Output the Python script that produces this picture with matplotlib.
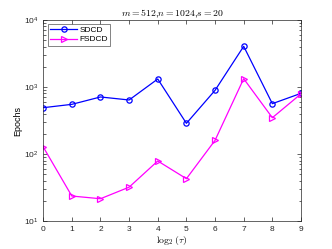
import matplotlib
matplotlib.use("Agg")
import matplotlib.pyplot as plt
from matplotlib.ticker import LogLocator, NullFormatter

plt.rcParams['font.family'] = ['Liberation Sans', 'DejaVu Sans']
plt.rcParams['mathtext.fontset'] = 'cm'

x = [0, 1, 2, 3, 4, 5, 6, 7, 8, 9]
sdcd = [491, 551, 710, 640, 1316, 287, 892, 4050, 564, 804]
fsdcd = [128, 23.6, 21.5, 32, 78.7, 42.8, 160, 1330, 348, 790]
xticks = [0, 1, 2, 3, 4, 5, 6, 7, 8, 9]

fig = plt.figure(figsize=(3.32, 2.49), dpi=100)
ax = fig.add_axes([0.13, 0.1124, 0.7766, 0.8073])
ax.semilogy(x, sdcd, '-o', color='#0000ff', lw=0.9, ms=3.8, mfc='none', mew=0.9, label='SDCD')
ax.semilogy(x, fsdcd, '->', color='#ff00ff', lw=0.9, ms=3.8, mfc='none', mew=0.9, label='FSDCD')
ax.set_xlim(0, 9)
ax.set_ylim(10, 1e4)
ax.set_xticks(xticks)
ax.yaxis.set_major_locator(LogLocator(base=10, numticks=10))
ax.yaxis.set_minor_locator(LogLocator(base=10, subs=range(2, 10), numticks=20))
ax.yaxis.set_minor_formatter(NullFormatter())
ax.tick_params(which='both', direction='in', top=True, right=True, labelsize=6, width=0.5, color='#262626', labelcolor='#262626')
ax.tick_params(which='major', length=3)
ax.tick_params(which='minor', length=1.8)
for s in ax.spines.values():
    s.set_linewidth(0.5)
    s.set_color('#262626')
ax.set_title(r'$m = 512$,$n = 1024$,$s = 20$', fontsize=7, pad=3)
ax.set_xlabel(r'$\log_2(\tau)$', fontsize=7, labelpad=1)
ax.set_ylabel('Epochs', fontsize=6.5, labelpad=1)
leg = ax.legend(loc='upper left', bbox_to_anchor=(0.018, 0.98), fontsize=6, frameon=True, fancybox=False,
                edgecolor='#262626', handlelength=3.2, borderpad=0.3, labelspacing=0.15,
                handletextpad=0.3, borderaxespad=0.0)
leg.get_frame().set_linewidth(0.5)
fig.savefig('out.png', dpi=100)
